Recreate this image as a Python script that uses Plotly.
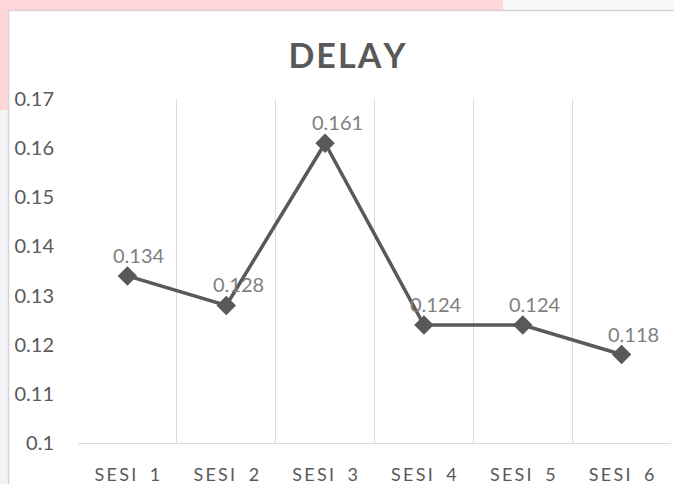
import plotly.graph_objects as go

categories = ["SESI 1", "SESI 2", "SESI 3", "SESI 4", "SESI 5", "SESI 6"]
delay = [0.134, 0.128, 0.161, 0.124, 0.124, 0.118]
y_ticks = [0.1, 0.11, 0.12, 0.13, 0.14, 0.15, 0.16, 0.17]
title_text = "DELAY"

W, H = 674, 484
ML, MR, MT, MB = 78, 3, 99, 41
pw, ph = W - ML - MR, H - MT - MB

def px_x(px):
    return (px - ML) / pw

def px_y(py):
    return (H - MB - py) / ph

def spaced(s, gap="\u2009"):
    # visual letter spacing, like the reference's tracked text
    return gap.join("\u2002" if ch == " " else ch for ch in s)

FONT = "Lato, 'Open Sans', sans-serif"
DARK = "#595959"

fig = go.Figure()
fig.add_trace(go.Scatter(
    x=categories, y=delay, mode="lines+markers",
    line=dict(color=DARK, width=3.5),
    marker=dict(symbol="diamond", size=15, color=DARK),
    hoverinfo="skip", showlegend=False, cliponaxis=False,
))

for c, v in zip(categories, delay):
    fig.add_annotation(x=c, y=v, text=f"{v:g}", showarrow=False,
                       xshift=12, yshift=21,
                       font=dict(family=FONT, size=20, color="#7f7f7f"))

shapes = [
    dict(type="rect", xref="paper", yref="paper", x0=px_x(0), x1=px_x(503), y0=px_y(10), y1=px_y(0),
         fillcolor="#ffd6da", line_width=0, layer="below"),
    dict(type="rect", xref="paper", yref="paper", x0=px_x(503), x1=px_x(674), y0=px_y(10), y1=px_y(0),
         fillcolor="#f6f8fa", line_width=0, layer="below"),
    dict(type="rect", xref="paper", yref="paper", x0=px_x(0), x1=px_x(8), y0=px_y(110), y1=px_y(10),
         fillcolor="#ffd6da", line_width=0, layer="below"),
    dict(type="rect", xref="paper", yref="paper", x0=px_x(0), x1=px_x(8), y0=px_y(484), y1=px_y(110),
         fillcolor="#f3f3f7", line_width=0, layer="below"),
    dict(type="line", xref="paper", yref="paper", x0=px_x(8), x1=px_x(674), y0=px_y(10.5), y1=px_y(10.5),
         line=dict(color="#d4d4d4", width=1.5), layer="below"),
    dict(type="line", xref="paper", yref="paper", x0=px_x(8.5), x1=px_x(8.5), y0=px_y(484), y1=px_y(10),
         line=dict(color="#d4d4d4", width=1.5), layer="below"),
]

fig.update_layout(
    width=W, height=H, autosize=False,
    margin=dict(l=ML, r=MR, t=MT, b=MB, autoexpand=False),
    paper_bgcolor="white", plot_bgcolor="white",
    shapes=shapes,
    title=dict(text="<b>" + spaced(title_text, "\u200a") + "</b>", x=347 / W, xref="container", xanchor="center",
               y=1 - 56 / H, yref="container", yanchor="middle", automargin=False,
               font=dict(family=FONT, size=34, color=DARK)),
    xaxis=dict(type="category", tickson="boundaries", showgrid=True, gridcolor="#d9d9d9", gridwidth=1,
               showline=True, linecolor="#d9d9d9", linewidth=1, ticks="", zeroline=False,
               range=[-0.5, 5.5], ticklabelstandoff=15, automargin=False,
               tickvals=categories, ticktext=[spaced(c, "\u200a\u200a") for c in categories],
               tickfont=dict(family=FONT, size=18, color=DARK)),
    yaxis=dict(range=[0.1, 0.17], tickvals=y_ticks, ticktext=[f"{t:g}" for t in y_ticks],
               showgrid=False, zeroline=False, showline=False, ticks="", automargin=False,
               ticklabelstandoff=23,
               tickfont=dict(family=FONT, size=20, color=DARK)),
)

fig.write_html("out.html", config={"displayModeBar": False},
               post_script="document.body.style.margin='0';document.body.style.overflow='hidden';")
